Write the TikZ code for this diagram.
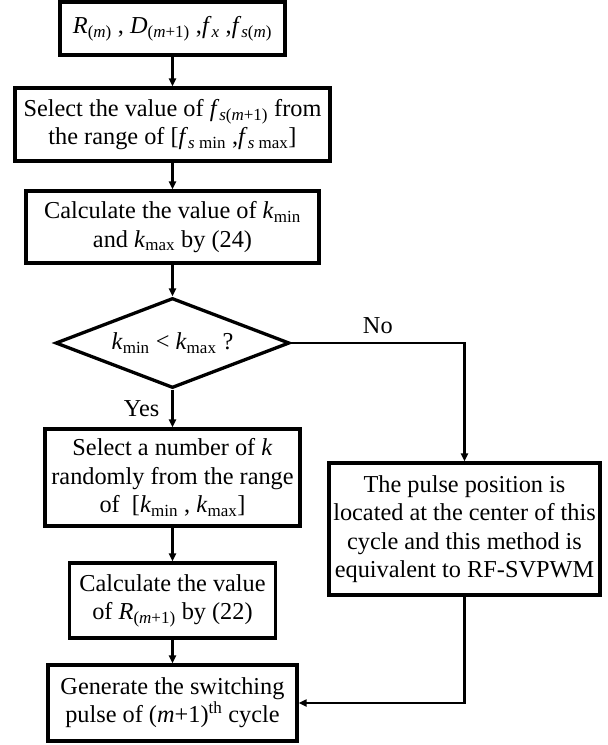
\documentclass[tikz,border=0pt]{standalone}
\usepackage{fontspec}
\setmainfont{Liberation Serif}
\usetikzlibrary{shapes.geometric,arrows.meta}

\newcommand{\vk}{\textit{k}}
\newcommand{\idx}[1]{\textsubscript{#1}}

\begin{document}
\begin{tikzpicture}[x=1pt,y=-1pt,font=\fontsize{24.3}{28.3}\selectfont,
  box/.style={draw,line width=3.3pt,align=center,inner sep=0pt},
  raute/.style={draw,diamond,line width=3.3pt,inner sep=0pt,aspect=2.6},
  pfeil/.style={line width=2.4pt,-{Triangle[length=8pt,width=7pt]}},
  lab/.style={inner sep=2pt}]
\useasboundingbox (0,0) rectangle (608,745);

%Kaesten
\node[box,minimum width=225pt,minimum height=53pt] (start) at (172.5,28.5)
  {\textit{R}\idx{(\textit{m})} , \textit{D}\idx{(\textit{m}+1)} ,\textit{f}\idx{\textit{x}} ,\textit{f}\idx{\textit{s}(\textit{m})}};
\node[box,minimum width=315pt,minimum height=73pt] (wahl) at (172.5,124.5)
  {Select the value of \textit{f}\idx{\textit{s}(\textit{m}+1)} from\\the range of [\textit{f}\idx{\textit{s} min} ,\textit{f}\idx{\textit{s} max}]};
\node[box,minimum width=293pt,minimum height=72pt] (kber) at (172.5,227)
  {Calculate the value of \vk\idx{min}\\and \vk\idx{max} by (24)};
\node[raute,minimum width=234pt,minimum height=90pt] (frage) at (172.5,343)
  {\vk\idx{min} < \vk\idx{max} ?};
\node[box,minimum width=255pt,minimum height=97pt] (zufall) at (172.5,477.5)
  {Select a number of \vk\\randomly from the range\\of\ \ [\vk\idx{min} , \vk\idx{max}]};
\node[box,minimum width=271pt,minimum height=132pt] (mitte) at (464.5,529)
  {The pulse position is\\located at the center of this\\cycle and this method is\\equivalent to RF-SVPWM};
\node[box,minimum width=206pt,minimum height=75pt] (rber) at (172.5,600.5)
  {Calculate the value\\of \textit{R}\idx{(\textit{m}+1)} by (22)};
\node[box,minimum width=249pt,minimum height=76pt] (puls) at (172.5,703)
  {Generate the switching\\pulse of (\textit{m}+1)\textsuperscript{th} cycle};

%Pfeile
\draw[pfeil] (start) -- (wahl);
\draw[pfeil] (wahl) -- (kber);
\draw[pfeil] (kber) -- (frage);
\draw[pfeil] (frage) -- node[lab,left=10pt] {Yes} (zufall);
\draw[pfeil] (frage.east) -| node[lab,above=6pt,pos=0.25] {No} (mitte);
\draw[pfeil] (zufall) -- (rber);
\draw[pfeil] (rber) -- (puls);
\draw[pfeil] (mitte) |- (puls);
\end{tikzpicture}
\end{document}
